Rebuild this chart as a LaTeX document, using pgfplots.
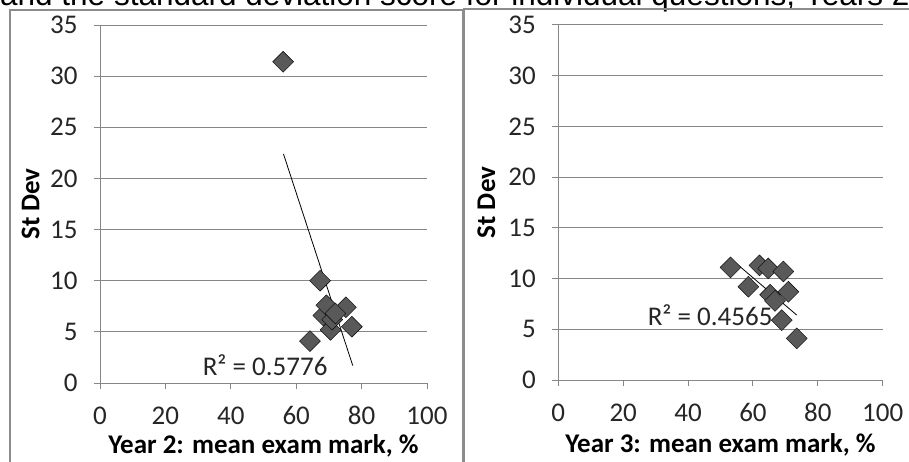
\documentclass[border=0pt]{standalone}
\usepackage{fontspec}
\setmainfont{Carlito}
\newfontfamily\arialfont{Liberation Sans}
\usepackage{pgfplots}
\pgfplotsset{compat=1.18}
\definecolor{gridc}{HTML}{868686}
\definecolor{markc}{HTML}{595959}
\definecolor{framec}{HTML}{8C8C8C}
\definecolor{txt}{HTML}{262626}
\pgfplotsset{
  mystyle/.style={
    scale only axis,
    xmin=0, xmax=100, ymin=0, ymax=35,
    xtick={0,20,...,100}, ytick={0,5,...,35},
    axis x line*=bottom, axis y line*=left,
    axis line style={gridc, line width=1pt},
    ymajorgrids, grid style={gridc, line width=1pt},
    tick align=outside, major tick length=6pt,
    tick style={gridc, line width=1pt},
    ticklabel style={font=\fontsize{27}{27}\selectfont, text=txt},
    xticklabel style={yshift=-14pt},
    yticklabel style={xshift=-13pt},
    /pgf/number format/assume math mode=true,
    label style={font=\bfseries\fontsize{27}{27}\selectfont, text=black},
    clip=false,
  },
  dmark/.style={only marks, mark=square*, mark size=7.4pt,
    mark options={rotate=45, fill=markc, draw=none}},
}
\begin{document}
\begin{tikzpicture}[x=1pt,y=1pt]
\useasboundingbox (0,0) rectangle (909,461);
\begin{scope}
\clip (0,0) rectangle (909,461);
\node[anchor=base west, inner sep=0, text=black, font=\arialfont\fontsize{31.5}{31.5}\selectfont] at (0,455) {and the standard deviation score for individual questions, Years 2 and 3};
\draw[framec, line width=2pt] (9.5,-5) -- (9.5,451) -- (463,451);
\draw[framec, line width=3pt] (463.5,-5) -- (463.5,452);
\draw[framec, line width=2pt] (463,452) -- (915,452);
\end{scope}

\begin{axis}[mystyle, at={(100pt,78pt)}, anchor=south west,
  width=327pt, height=358pt,
  xlabel={Year 2: mean exam mark, \%}, ylabel={St Dev},
  xlabel style={at={(axis description cs:0.5,-0.176)}, anchor=center},
  ylabel style={at={(axis description cs:-0.212,0.5)}, anchor=center}]
\addplot[dmark] coordinates {
(56,31.4) (67.3,10.0) (64.2,4.1) (68.3,6.6) (69.2,7.6) (70.5,5.2)
(71,6.2) (75.2,7.4) (77,5.5) (72,6.8)};
\addplot[black, line width=0.8pt] coordinates {(56.1,22.4) (77.3,1.7)};
\node[font=\fontsize{27}{27}\selectfont, text=txt] at (axis cs:50.5,1.76) {R² = 0.5776};
\end{axis}

\begin{axis}[mystyle, at={(558.3pt,81pt)}, anchor=south west,
  width=324.4pt, height=355pt,
  xlabel={Year 3: mean exam mark, \%}, ylabel={St Dev},
  xlabel style={at={(axis description cs:0.5,-0.182)}, anchor=center},
  ylabel style={at={(axis description cs:-0.222,0.5)}, anchor=center}]
\addplot[dmark] coordinates {
(53.1,11.1) (58.6,9.2) (62.0,11.3) (64.7,11.0) (69.4,10.7)
(65.3,8.4) (66.8,7.8) (70.9,8.7) (68.9,5.9) (73.5,4.1)};
\addplot[black, line width=0.8pt] coordinates {(53,12.0) (73.5,6.4)};
\node[font=\fontsize{27}{27}\selectfont, text=txt] at (axis cs:46.8,6.4) {R² = 0.4565};
\end{axis}
\end{tikzpicture}
\end{document}
